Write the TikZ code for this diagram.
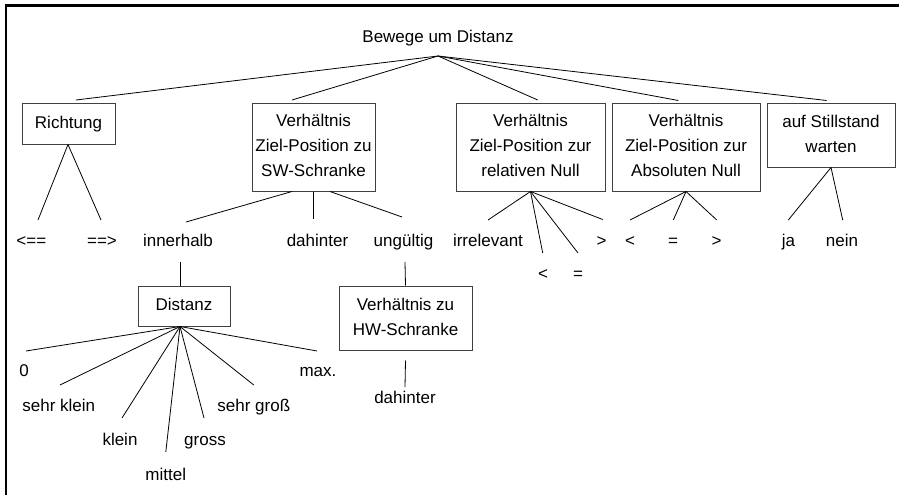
\documentclass[tikz,border=0pt]{standalone}
\usepackage{fontspec}
\setmainfont{Liberation Sans}
% one line of box text: fixed height and depth so that boxes centre their lines evenly
\newcommand\lnstrut{\rule[-8pt]{0pt}{25pt}}
\begin{document}
\begin{tikzpicture}[x=1pt,y=-1pt,
  every node/.style={font=\fontsize{17}{25}\selectfont, inner sep=0pt},
  box/.style={draw=black!75, line width=1pt, align=center},
  leaf/.style={anchor=base},
  edge/.style={line width=0.8pt, black}]
\useasboundingbox (0,0) rectangle (899,495);

% frame
\draw[line width=2.2pt] (6,495) -- (6,5.5) -- (899,5.5);

% root
\node[leaf] (root) at (438,43) {Bewege um Distanz};
\coordinate (apex) at ([yshift=-13pt]root.base);

% classifications
\node[box, minimum width=93, minimum height=41] (rich) at (68.5,123.5) {\lnstrut Richtung};
\node[box, minimum width=123, minimum height=88] (sw) at (313.5,147)
  {\lnstrut Verhältnis\\\lnstrut Ziel-Position zu\\\lnstrut SW-Schranke};
\node[box, minimum width=149, minimum height=88] (rel) at (530.5,147)
  {\lnstrut Verhältnis\\\lnstrut Ziel-Position zur\\\lnstrut relativen Null};
\node[box, minimum width=148, minimum height=88] (abs) at (686,147)
  {\lnstrut Verhältnis\\\lnstrut Ziel-Position zur\\\lnstrut Absoluten Null};
\node[box, minimum width=128, minimum height=64] (still) at (831,135)
  {\lnstrut auf Stillstand\\\lnstrut warten};
\node[box, minimum width=92, minimum height=40] (dist) at (184,306) {\lnstrut Distanz};
\node[box, minimum width=133, minimum height=64] (hw) at (405.5,318)
  {\lnstrut Verhältnis zu\\\lnstrut HW-Schranke};

% classes
\node[leaf] (l1) at (31.3,246) {<==};
\node[leaf] (l2) at (102,246) {==>};
\node[leaf] (inn) at (178,246) {innerhalb};
\node[leaf] (dah) at (317.5,246) {dahinter};
\node[leaf] (ung) at (403.5,246) {ungültig};
\node[leaf] (irr) at (488,246) {irrelevant};
\node[leaf] (rlt) at (543,279) {<};
\node[leaf] (req) at (578,279) {=};
\node[leaf] (rgt) at (601.5,246) {>};
\node[leaf] (alt) at (630,246) {<};
\node[leaf] (aeq) at (673,246) {=};
\node[leaf] (agt) at (716.7,246) {>};
\node[leaf] (ja) at (788.5,246) {ja};
\node[leaf] (nein) at (842,246) {nein};
\node[leaf] (d0) at (24,376.7) {0};
\node[leaf] (d1) at (58.8,411) {sehr klein};
\node[leaf] (d2) at (120,445) {klein};
\node[leaf] (d3) at (165.8,480) {mittel};
\node[leaf] (d4) at (205,445) {gross};
\node[leaf] (d5) at (253.8,411) {sehr groß};
\node[leaf] (d6) at (318,376.7) {max.};
\node[leaf] (hwd) at (405,403) {dahinter};

% root to classifications
\draw[edge] (apex) -- ([xshift=7.5pt,yshift=2.5pt]rich.north);
\draw[edge] (apex) -- ([xshift=-21.5pt,yshift=2.5pt]sw.north);
\draw[edge] (apex) -- ([xshift=7.2pt,yshift=2.5pt]rel.north);
\draw[edge] (apex) -- ([xshift=-7.7pt,yshift=2pt]abs.north);
\draw[edge] (apex) -- ([xshift=-4.3pt,yshift=2pt]still.north);

% Richtung
\draw[edge] ([xshift=-0.5pt]rich.south) -- ([xshift=6.7pt,yshift=26pt]l1.base);
\draw[edge] ([xshift=-0.5pt]rich.south) -- ([xshift=-1pt,yshift=26pt]l2.base);

% SW-Schranke
\draw[edge] ([xshift=-21.5pt]sw.south) -- ([xshift=8pt,yshift=24pt]inn.base);
\draw[edge] ([xshift=-0.5pt]sw.south) -- ([xshift=-4.5pt,yshift=27pt]dah.base);
\draw[edge] ([xshift=16.5pt]sw.south) -- ([xshift=-1.5pt,yshift=29pt]ung.base);

% relative Null
\draw[edge] (rel.south) -- ([yshift=26pt]irr.base);
\draw[edge] (rel.south) -- ([xshift=-0.3pt,yshift=26pt]rlt.base);
\draw[edge] (rel.south) -- ([yshift=26pt]req.base);
\draw[edge] (rel.south) -- ([xshift=1.2pt,yshift=26.5pt]rgt.base);

% absolute Null
\draw[edge] (abs.south) -- ([yshift=26pt]alt.base);
\draw[edge] (abs.south) -- ([xshift=0.3pt,yshift=26pt]aeq.base);
\draw[edge] (abs.south) -- ([yshift=26pt]agt.base);

% Stillstand
\draw[edge] (still.south) -- ([xshift=-0.2pt,yshift=26pt]ja.base);
\draw[edge] (still.south) -- ([xshift=0.7pt,yshift=26pt]nein.base);

% innerhalb -> Distanz
\draw[edge] ([xshift=2pt,yshift=-16pt]inn.base) -- ([xshift=-4pt]dist.north);
\draw[edge] ([xshift=-4pt]dist.south) -- ([xshift=2pt,yshift=25.7pt]d0.base);
\draw[edge] ([xshift=-4pt]dist.south) -- ([xshift=1.2pt,yshift=26pt]d1.base);
\draw[edge] ([xshift=-4pt]dist.south) -- ([xshift=2pt,yshift=27pt]d2.base);
\draw[edge] ([xshift=-4pt]dist.south) -- ([yshift=28pt]d3.base);
\draw[edge] ([xshift=-4pt]dist.south) -- ([xshift=-1pt,yshift=27pt]d4.base);
\draw[edge] ([xshift=-4pt]dist.south) -- ([yshift=26pt]d5.base);
\draw[edge] ([xshift=-4pt]dist.south) -- ([xshift=-1pt,yshift=25.7pt]d6.base);

% ungültig -> HW-Schranke
\draw[edge] ([xshift=1.5pt,yshift=-16pt]ung.base) -- (hw.north);
\draw[edge] ([yshift=-10pt]hw.south) -- ([yshift=16pt]hwd.base);
\end{tikzpicture}
\end{document}
